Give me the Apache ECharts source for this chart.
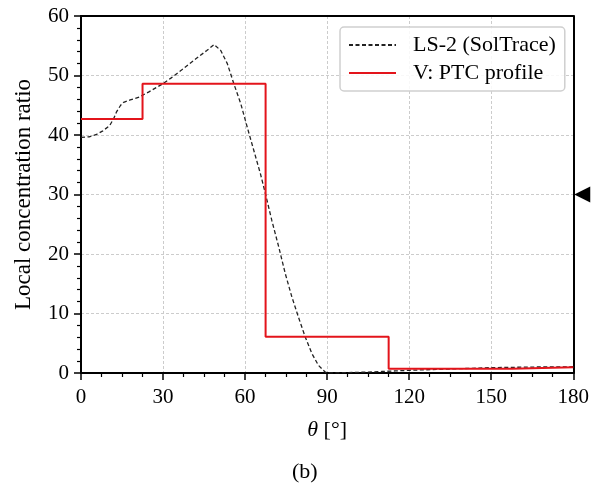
<!DOCTYPE html>
<html>
<head>
<meta charset="utf-8">
<script src="https://cdn.jsdelivr.net/npm/echarts@6/dist/echarts.min.js"></script>
<style>html,body{margin:0;padding:0;background:#fff;}#c{width:592px;height:492px;}</style>
</head>
<body>
<div id="c"></div>
<script>
// LS-2 (SolTrace) local concentration ratio vs theta
var traceTheta = [0, 3, 5.7, 8, 10.5, 12, 13, 14.5, 15.6, 18, 21.4, 25, 29.9, 33, 37, 42, 46, 48.7, 51.1, 53.5, 55.9, 58.4, 60.8, 63.2, 65.6, 67.4, 69.8, 72.3, 74.7, 77.1, 79.5, 82, 84.4, 86.8, 89.2, 90, 95, 100, 105, 110, 115, 120, 130, 140, 150, 157, 165, 180];
var traceLCR   = [39.6, 39.7, 40.1, 40.7, 41.6, 42.8, 43.9, 45.0, 45.5, 45.9, 46.4, 47.3, 48.6, 49.6, 51.0, 52.8, 54.2, 55.2, 54.2, 52.0, 48.6, 45.3, 41.3, 37.4, 33.5, 30.2, 25.6, 21.2, 16.7, 12.8, 9.4, 6.05, 3.3, 1.3, 0.2, 0, 0.05, 0.1, 0.15, 0.25, 0.35, 0.45, 0.6, 0.75, 0.9, 0.95, 1.0, 1.05];
// V: PTC profile (piecewise constant)
var profileEdges  = [0, 22.5, 67.5, 112.5, 157.5, 180];
var profileValues = [42.7, 48.6, 6.1, 0.7, 0.95];
// axis ticks
var xTicks = [0, 30, 60, 90, 120, 150, 180];
var yTicks = [0, 10, 20, 30, 40, 50, 60];
var arrowAt = [180, 30];

var traceData = traceTheta.map(function (t, i) { return [t, traceLCR[i]]; });
var profileData = profileValues.map(function (v, i) { return [profileEdges[i], v]; });
profileData.push([profileEdges[profileEdges.length - 1], profileValues[profileValues.length - 1]]);

var FONT = 'Liberation Serif';
var xMin = xTicks[0], xMax = xTicks[xTicks.length - 1];
var yMin = yTicks[0], yMax = yTicks[yTicks.length - 1];
var frameAxis = {
  type: 'value', axisLine: { show: true, onZero: false, lineStyle: { color: '#000', width: 2 } },
  axisTick: { show: false }, axisLabel: { show: false }, splitLine: { show: false }
};
var chart = echarts.init(document.getElementById('c'), null, { renderer: 'canvas' });
chart.setOption({
  animation: false,
  backgroundColor: '#fff',
  textStyle: { fontFamily: FONT },
  title: {
    text: '(b)', left: 287, top: 456,
    textStyle: { fontFamily: FONT, fontWeight: 'normal', fontSize: 22, color: '#000' }
  },
  grid: { left: 81, right: 15, top: 16, bottom: 119 },
  legend: {
    orient: 'vertical', left: 340, top: 27,
    padding: [7, 9, 7, 8], itemGap: 6,
    itemWidth: 47, itemHeight: 14,
    itemStyle: { opacity: 0 },
    backgroundColor: 'rgba(255,255,255,0.85)', borderColor: '#cfcfcf', borderWidth: 1.5, borderRadius: 4,
    textStyle: { fontFamily: FONT, fontSize: 22, color: '#000', lineHeight: 22, padding: [0, 0, 0, 12] },
    data: ['LS-2 (SolTrace)', 'V: PTC profile']
  },
  xAxis: [{
    type: 'value', min: xMin, max: xMax, interval: 30,
    name: '{i|θ} [°]', nameLocation: 'middle', nameGap: 46,
    nameTextStyle: { fontFamily: FONT, fontSize: 22, color: '#000',
      rich: { i: { fontFamily: FONT, fontStyle: 'italic', fontSize: 22, color: '#000' } } },
    axisLine: { show: true, lineStyle: { color: '#000', width: 2 } },
    axisTick: { show: true, length: 7, lineStyle: { color: '#000', width: 1.5 } },
    minorTick: { show: true, splitNumber: 4, length: 4, lineStyle: { color: '#000', width: 1.2 } },
    axisLabel: { fontFamily: FONT, fontSize: 21, color: '#000', margin: 14 },
    splitLine: { show: true, lineStyle: { color: '#cccccc', width: 1, type: [3, 2] } }
  }, Object.assign({ position: 'top', min: xMin, max: xMax }, frameAxis)],
  yAxis: [{
    type: 'value', min: yMin, max: yMax, interval: 10,
    name: 'Local concentration ratio', nameLocation: 'middle', nameGap: 46,
    nameTextStyle: { fontFamily: FONT, fontSize: 23, color: '#000' },
    axisLine: { show: true, lineStyle: { color: '#000', width: 2 } },
    axisTick: { show: true, length: 7, lineStyle: { color: '#000', width: 1.5 } },
    minorTick: { show: true, splitNumber: 5, length: 4, lineStyle: { color: '#000', width: 1.2 } },
    axisLabel: { fontFamily: FONT, fontSize: 21, color: '#000', margin: 12 },
    splitLine: { show: true, lineStyle: { color: '#cccccc', width: 1, type: [3, 2] } }
  }, Object.assign({ position: 'right', min: yMin, max: yMax }, frameAxis)],
  series: [
    {
      name: 'LS-2 (SolTrace)', type: 'line', data: traceData,
      showSymbol: false, symbol: 'none', smooth: false, z: 3,
      lineStyle: { color: '#222', width: 1.3, type: [4, 2.5] },
      itemStyle: { color: '#222' }
    },
    {
      name: 'V: PTC profile', type: 'line', data: profileData, step: 'end',
      showSymbol: false, symbol: 'none', z: 4,
      lineStyle: { color: '#e3141b', width: 2 },
      itemStyle: { color: '#e3141b' },
      markPoint: {
        symbol: 'path://M0,8 L16,0 L16,16 Z', symbolSize: [16, 16], symbolOffset: [9, 0],
        itemStyle: { color: '#000' }, label: { show: false },
        data: [{ coord: arrowAt }]
      }
    }
  ]
});
</script>
</body>
</html>
